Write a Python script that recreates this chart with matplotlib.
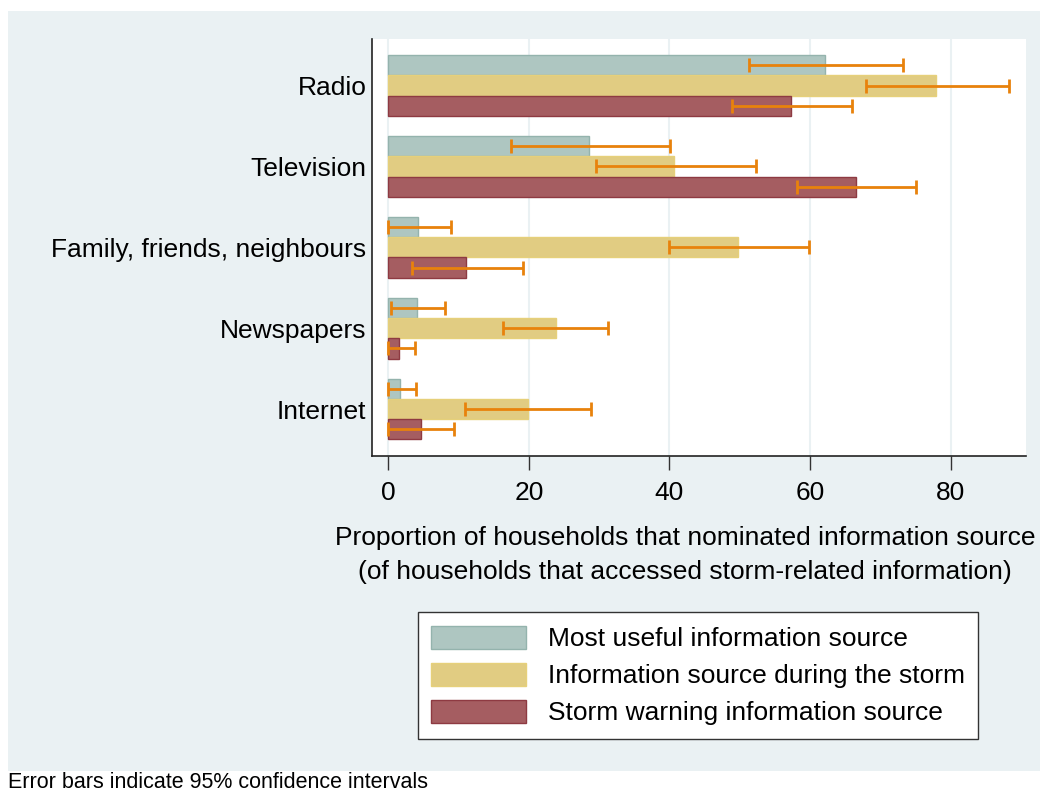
import numpy as np
import matplotlib.pyplot as plt
from matplotlib.patches import Rectangle, Patch

plt.rcParams['font.family'] = ['Liberation Sans', 'DejaVu Sans']

sources = ["Radio", "Television", "Family, friends, neighbours", "Newspapers", "Internet"]
series = ["Most useful information source",
          "Information source during the storm",
          "Storm warning information source"]

# proportions (%) with 95% CI bounds
useful = [62.2, 28.6, 4.2, 4.1, 1.7]
useful_lo = [51.3, 17.5, 0.0, 0.4, 0.0]
useful_hi = [73.2, 40.1, 8.9, 8.0, 4.0]

during = [78.0, 40.7, 49.8, 23.8, 19.8]
during_lo = [68.0, 29.6, 40.0, 16.3, 10.9]
during_hi = [88.3, 52.3, 59.9, 31.3, 28.9]

warning = [57.3, 66.5, 11.1, 1.5, 4.6]
warning_lo = [48.9, 58.1, 3.3, 0.0, 0.0]
warning_hi = [66.0, 75.1, 19.1, 3.8, 9.3]

fills = ["#AEC6C1", "#E1CC82", "#A55D61"]
edges = ["#94B3AD", "#E6D07A", "#8E3A42"]
ci_col = "#E8820C"
bg = "#EAF1F3"
fs = 19

W, H = 1040, 792
fig = plt.figure(figsize=(W / 100, H / 100), dpi=100, facecolor="white")
fig.patches.append(Rectangle((8 / W, 1 - 771 / H), 1 - 8 / W, (771 - 11) / H,
                             transform=fig.transFigure, facecolor=bg,
                             edgecolor="none", zorder=-5))

l, r, t, b = 372, 1025.7, 39, 455.7
ax = fig.add_axes([l / W, 1 - b / H, (r - l) / W, (b - t) / H])
ax.set_facecolor("white")

y = np.arange(len(sources))
h = 0.25
groups = [(useful, useful_lo, useful_hi), (during, during_lo, during_hi),
          (warning, warning_lo, warning_hi)]
for i, (vals, lo, hi) in enumerate(groups):
    pos = y + (i - 1) * h
    vals = np.array(vals)
    ax.barh(pos, vals, height=h, color=fills[i], edgecolor=edges[i],
            linewidth=1, label=series[i], zorder=2)
    err = [vals - np.array(lo), np.array(hi) - vals]
    ax.errorbar(vals, pos, xerr=err, fmt="none", ecolor=ci_col,
                elinewidth=2, capsize=5, capthick=2, zorder=3)

ax.set_xlim(-2.33, 90.7)
ax.set_ylim(4.576, -0.576)
ax.set_xticks([0, 20, 40, 60, 80])
ax.set_yticks(y)
ax.set_yticklabels(sources)
ax.tick_params(axis="y", length=0, pad=4, labelsize=fs)
ax.tick_params(axis="x", length=10, width=1, color="#333333", pad=8, labelsize=fs)
ax.grid(axis="x", color=bg, linewidth=1.5, zorder=0)
ax.set_axisbelow(True)
for s in ["top", "right"]:
    ax.spines[s].set_visible(False)
for s in ["left", "bottom"]:
    ax.spines[s].set_color("#222222")
    ax.spines[s].set_linewidth(1.2)

fig.text(685 / W, 1 - 555 / H,
         "Proportion of households that nominated information source\n"
         "(of households that accessed storm-related information)",
         ha="center", va="center", fontsize=fs, linespacing=1.55)

handles = [Patch(facecolor=fills[i], edgecolor=edges[i]) for i in range(3)]
fig.legend(handles, series, loc="center", bbox_to_anchor=(698 / W, 1 - 675.5 / H),
           fontsize=fs, frameon=True, fancybox=False, edgecolor="#333333",
           framealpha=1, handlelength=3.6, handleheight=1.0,
           labelspacing=0.42, handletextpad=0.8, borderpad=0.5)

fig.text(8 / W, 1 - 782 / H, "Error bars indicate 95% confidence intervals",
         ha="left", va="center", fontsize=15.5)

fig.savefig("out.png", dpi=100, facecolor="white")
